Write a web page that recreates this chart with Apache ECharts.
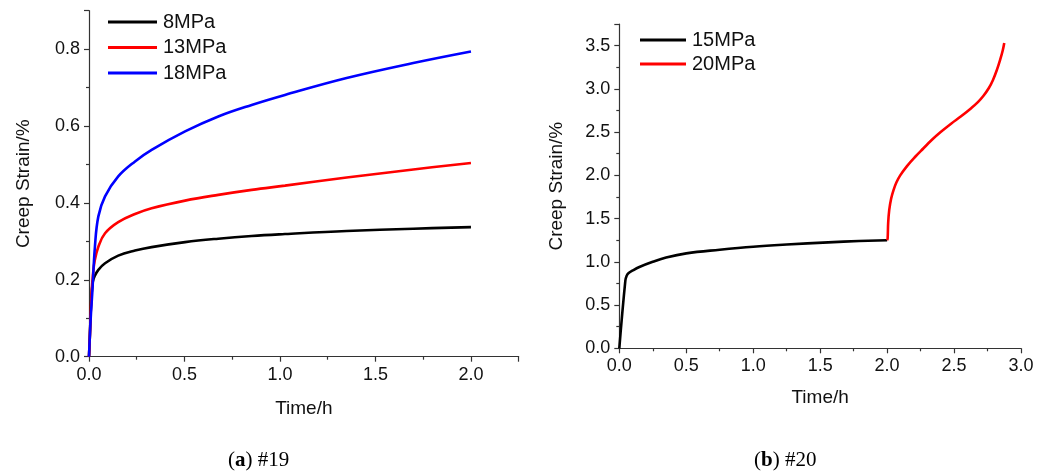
<!DOCTYPE html>
<html><head><meta charset="utf-8">
<script src="https://cdn.jsdelivr.net/npm/echarts@6/dist/echarts.min.js"></script>
<style>html,body{margin:0;padding:0;background:#fff}#c{width:1049px;height:475px}</style>
</head><body><div id="c"></div>
<script>
// Panel (a) #19
const t8 = [0, 0.005, 0.012, 0.02, 0.03, 0.049, 0.084, 0.153, 0.241, 0.328, 0.503, 0.677, 0.852, 1.026, 1.349, 1.698, 2.0];
const s8 = [0, 0.06, 0.15, 0.195, 0.21, 0.226, 0.243, 0.263, 0.276, 0.285, 0.298, 0.307, 0.314, 0.319, 0.327, 0.333, 0.337];
const t13 = [0, 0.005, 0.012, 0.02, 0.03, 0.049, 0.084, 0.153, 0.241, 0.328, 0.503, 0.677, 0.852, 1.026, 1.349, 1.698, 2.0];
const s13 = [0, 0.06, 0.15, 0.21, 0.25, 0.286, 0.321, 0.35, 0.371, 0.386, 0.406, 0.421, 0.434, 0.445, 0.466, 0.487, 0.504];
const t18 = [0, 0.005, 0.01, 0.017, 0.031, 0.049, 0.084, 0.153, 0.241, 0.328, 0.503, 0.677, 0.852, 1.026, 1.349, 1.698, 2.0];
const s18 = [0, 0.06, 0.11, 0.165, 0.286, 0.365, 0.417, 0.469, 0.508, 0.538, 0.586, 0.625, 0.655, 0.681, 0.725, 0.764, 0.794];
// Panel (b) #20
const t15 = [0, 0.045, 0.055, 0.07, 0.1, 0.15, 0.25, 0.35, 0.5, 0.75, 1.0, 1.25, 1.56, 1.79, 2.0];
const s15 = [0, 0.78, 0.84, 0.87, 0.9, 0.94, 1.0, 1.05, 1.098, 1.14, 1.175, 1.2, 1.225, 1.24, 1.25];
const t20 = [2.0, 2.004, 2.008, 2.016, 2.03, 2.048, 2.07, 2.098, 2.15, 2.21, 2.27, 2.333, 2.4, 2.48, 2.55, 2.63, 2.68, 2.72, 2.76, 2.79, 2.82, 2.845, 2.863, 2.875];
const s20 = [1.25, 1.27, 1.45, 1.6, 1.73, 1.83, 1.92, 2.0, 2.11, 2.215, 2.31, 2.408, 2.5, 2.6, 2.68, 2.78, 2.85, 2.92, 3.01, 3.1, 3.22, 3.34, 3.44, 3.53];

const namesA = ['8MPa', '13MPa', '18MPa'];
const namesB = ['15MPa', '20MPa'];
const xNameText = 'Time/h';
const yNameText = 'Creep Strain/%';
const captionA = ['a', ' #19'];
const captionB = ['b', ' #20'];

const zip = (a, b) => a.map((x, i) => [x, b[i]]);
const FONT = 'Liberation Sans, Arial, sans-serif';
const axisCommon = {
  type: 'value',
  splitLine: { show: false },
  axisLine: { show: true, onZero: false, lineStyle: { color: '#333', width: 1.2 } },
  axisTick: { show: true, inside: false, length: 5, lineStyle: { color: '#333', width: 1.2 } },
  minorTick: { show: true, splitNumber: 2, length: 3, lineStyle: { color: '#333', width: 1.2 } },
  axisLabel: { color: '#111', fontSize: 18, fontFamily: FONT, margin: 9, formatter: v => v.toFixed(1) },
  nameLocation: 'middle',
  nameTextStyle: { color: '#111', fontSize: 19, fontFamily: FONT }
};
const mk = (o) => Object.assign({}, axisCommon, o, {
  axisLabel: Object.assign({}, axisCommon.axisLabel, o.axisLabel || {})
});

const lineS = (name, t, s, color, xi) => ({
  name, type: 'line', xAxisIndex: xi, yAxisIndex: xi,
  data: zip(t, s), showSymbol: false, symbol: 'none',
  smooth: 0.4,
  lineStyle: { color, width: 2.6 }, itemStyle: { color }
});

const chart = echarts.init(document.getElementById('c'));
chart.setOption({
  animation: false,
  backgroundColor: '#fff',
  grid: [
    { left: 89, top: 10.7, width: 429.7, height: 346 },
    { left: 619.3, top: 24, width: 401.7, height: 324.3 }
  ],
  xAxis: [
    mk({ gridIndex: 0, min: 0, max: 2.25, interval: 0.5, name: xNameText, nameGap: 43, axisLabel: { showMaxLabel: false } }),
    mk({ gridIndex: 1, min: 0, max: 3.0, interval: 0.5, name: xNameText, nameGap: 40 })
  ],
  yAxis: [
    mk({ gridIndex: 0, min: 0, max: 0.9, interval: 0.2, name: yNameText, nameGap: 56, axisLabel: { showMaxLabel: false } }),
    mk({ gridIndex: 1, min: 0, max: 3.75, interval: 0.5, name: yNameText, nameGap: 53, axisLabel: { showMaxLabel: false } })
  ],
  legend: [
    { data: namesA, orient: 'vertical', left: 108, top: 12, itemWidth: 49, itemHeight: 3, itemGap: 5.5, icon: 'rect',
      textStyle: { color: '#111', fontSize: 20, fontFamily: FONT, lineHeight: 20, padding: [0, 0, 0, 1] }, padding: 0 },
    { data: namesB, orient: 'vertical', left: 640, top: 30, itemWidth: 46, itemHeight: 3, itemGap: 4, icon: 'rect',
      textStyle: { color: '#111', fontSize: 20, fontFamily: FONT, lineHeight: 20, padding: [0, 0, 0, 1] }, padding: 0 }
  ],
  graphic: [
    { type: 'text', left: 228, top: 450, style: {
      text: '{p|(}{b|' + captionA[0] + '}{p|)' + captionA[1] + '}',
      rich: { p: { fontFamily: 'Liberation Serif, DejaVu Serif, serif', fontSize: 21, fill: '#000' },
              b: { fontFamily: 'Liberation Serif, DejaVu Serif, serif', fontSize: 21, fontWeight: 'bold', fill: '#000' } } } },
    { type: 'text', left: 754, top: 450, style: {
      text: '{p|(}{b|' + captionB[0] + '}{p|)' + captionB[1] + '}',
      rich: { p: { fontFamily: 'Liberation Serif, DejaVu Serif, serif', fontSize: 21, fill: '#000' },
              b: { fontFamily: 'Liberation Serif, DejaVu Serif, serif', fontSize: 21, fontWeight: 'bold', fill: '#000' } } } }
  ],
  series: [
    lineS(namesA[0], t8, s8, '#000000', 0),
    lineS(namesA[1], t13, s13, '#ff0000', 0),
    lineS(namesA[2], t18, s18, '#0000ff', 0),
    lineS(namesB[0], t15, s15, '#000000', 1),
    lineS(namesB[1], t20, s20, '#ff0000', 1)
  ]
});
</script></body></html>
